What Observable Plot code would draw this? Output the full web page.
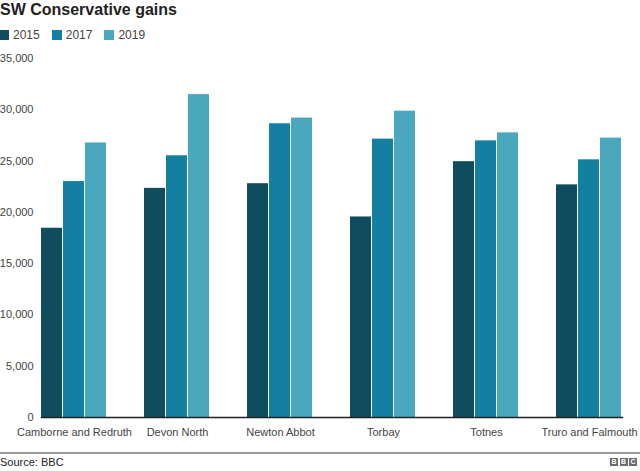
<!DOCTYPE html>
<html>
<head>
<meta charset="utf-8">
<script src="https://cdn.jsdelivr.net/npm/d3@7"></script>
<script src="https://cdn.jsdelivr.net/npm/@observablehq/plot@0.6"></script>
<style>
  html, body { margin: 0; padding: 0; background: #fff; }
  body { width: 640px; height: 471px; position: relative; overflow: hidden;
         font-family: "Liberation Sans", Arial, Helvetica, sans-serif; color: #222; }
  #title { position: absolute; left: 0; top: 0; font-size: 16px; font-weight: bold; line-height: 20px; color: #222; }
  #legend { position: absolute; left: -1px; top: 28px; display: flex; align-items: center; font-size: 12px; line-height: 14px; color: #444; }
  #legend .item { display: flex; align-items: center; margin-right: 12px; }
  #legend .sw { width: 10px; height: 10px; margin-right: 4px; }
  #chart { position: absolute; left: 0; top: 50px; }
  #rule { position: absolute; left: 0; top: 452px; width: 640px; height: 2px; background: #9a9a9a; }
  #source { position: absolute; left: 0; top: 456px; font-size: 11px; line-height: 13px; color: #222; }
  #logo { position: absolute; right: 3px; top: 458px; display: flex; }
  #logo span { width: 8px; height: 8px; margin-left: 1.5px; background: #6a6a6a; color: #fff;
               font: bold 7px/8px "Liberation Sans", Arial, sans-serif; text-align: center; }
</style>
</head>
<body>
<div id="title">SW Conservative gains</div>
<div id="legend"></div>
<div id="chart"></div>
<div id="rule"></div>
<div id="source">Source: BBC</div>
<div id="logo"><span>B</span><span>B</span><span>C</span></div>
<script>
// ---- data ----
const constituencies = ["Camborne and Redruth", "Devon North", "Newton Abbot", "Torbay", "Totnes", "Truro and Falmouth"];
const years = ["2015", "2017", "2019"];
const votes2015 = [18452, 22341, 22794, 19551, 24941, 22681];
const votes2017 = [23001, 25517, 28635, 27141, 26972, 25123];
const votes2019 = [26764, 31479, 29190, 29863, 27751, 27237];
const yearColors = ["#0f4c5d", "#1380a1", "#4aa8be"];
const yTicks = [0, 5000, 10000, 15000, 20000, 25000, 30000, 35000];

const series = [votes2015, votes2017, votes2019];
const data = [];
constituencies.forEach((c, i) => {
  years.forEach((y, j) => data.push({constituency: c, year: y, votes: series[j][i]}));
});

// legend
const legend = document.getElementById("legend");
years.forEach((y, j) => {
  const it = document.createElement("div");
  it.className = "item";
  it.innerHTML = `<span class="sw" style="background:${yearColors[j]}"></span><span>${y}</span>`;
  legend.appendChild(it);
});

const chart = Plot.plot({
  width: 640,
  height: 398,
  marginTop: 8,
  marginLeft: 40,
  marginRight: 18,
  marginBottom: 31,
  style: {fontFamily: "'Liberation Sans', Arial, sans-serif", fontSize: "11px", color: "#444", background: "#fff"},
  fx: {domain: constituencies, paddingInner: 0.36, paddingOuter: 0, label: null, axis: null},
  x: {domain: years, axis: null, paddingInner: 0.03, paddingOuter: 0},
  y: {domain: [0, 35000], label: null, axis: null},
  color: {domain: years, range: yearColors},
  marks: [
    Plot.axisY({ticks: yTicks, tickFormat: d3.format(","), tickSize: 0, tickPadding: 8, label: null, line: true, stroke: "#d9d9d9", fill: "#444"}),
    Plot.axisFx({anchor: "bottom", tickSize: 0, tickPadding: 11, label: null, fill: "#444"}),
    Plot.barY(data, {fx: "constituency", x: "year", y: "votes", fill: "year"}),
    Plot.frame({anchor: "bottom", stroke: "#222", strokeWidth: 1.5, facet: "super"})
  ]
});
document.getElementById("chart").appendChild(chart);
</script>
</body>
</html>
